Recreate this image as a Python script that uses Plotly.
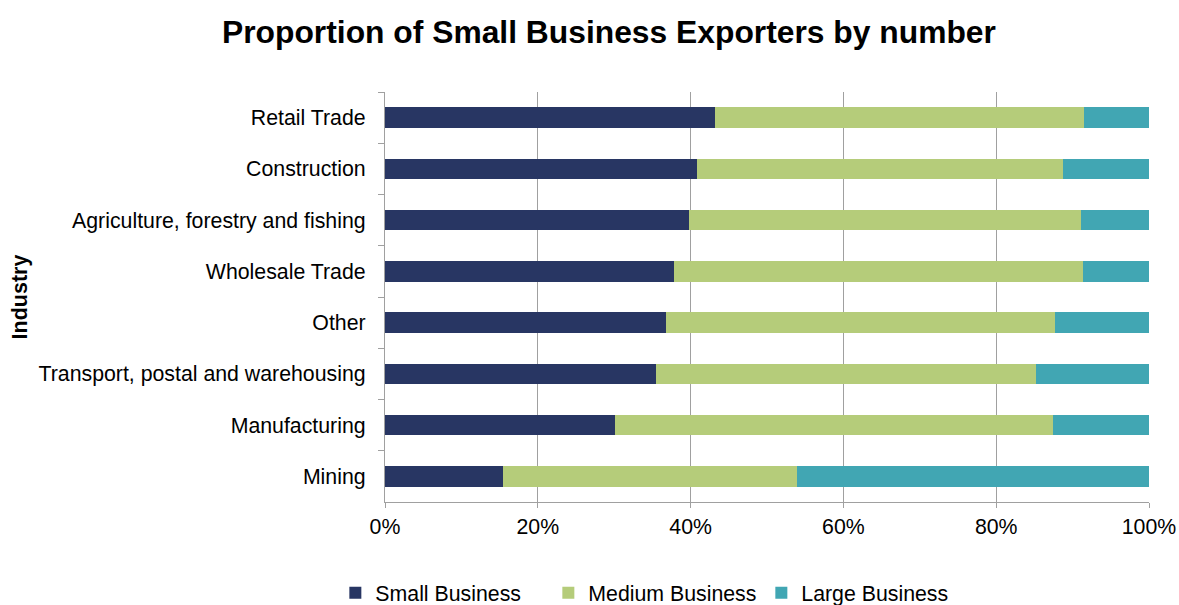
import plotly.graph_objects as go

categories = ["Retail Trade", "Construction", "Agriculture, forestry and fishing",
              "Wholesale Trade", "Other", "Transport, postal and warehousing",
              "Manufacturing", "Mining"]
small = [43.2, 40.8, 39.8, 37.8, 36.8, 35.5, 30.1, 15.4]
medium = [48.3, 47.9, 51.3, 53.6, 50.9, 49.7, 57.3, 38.5]
large = [8.5, 11.3, 8.9, 8.6, 12.3, 14.8, 12.6, 46.1]

series = [("Small Business", small, "#283663"),
          ("Medium Business", medium, "#b5cc7a"),
          ("Large Business", large, "#41a6b3")]

fig = go.Figure()
for name, vals, col in series:
    fig.add_trace(go.Bar(
        y=categories, x=[v / 100 for v in vals], name=name, orientation="h",
        marker=dict(color=col, line=dict(width=0)),
    ))

FS = 21.3
fig.update_layout(
    barmode="stack",
    bargap=0.6,
    width=1179, height=605,
    margin=dict(l=385, r=30, t=92, b=103, autoexpand=False),
    paper_bgcolor="white", plot_bgcolor="white",
    font=dict(family="Liberation Sans, Arial, sans-serif", size=FS, color="#000000"),
    title=dict(text="<b>Proportion of Small Business Exporters by number</b>",
               x=0.5165, xanchor="center", y=0.947, yanchor="middle",
               font=dict(size=31.8, color="#000000")),
    legend=dict(orientation="h", x=-0.065, xanchor="left", y=-0.222, yanchor="middle",
                font=dict(size=FS), traceorder="normal", itemwidth=30,
                entrywidth=168, entrywidthmode="pixels"),
    xaxis=dict(range=[0, 1], tickformat=".0%", dtick=0.2, showgrid=True,
               gridcolor="#a0a0a0", gridwidth=1.2, showline=True, linecolor="#a0a0a0",
               linewidth=1.2, ticks="outside", ticklen=5, tickcolor="#a0a0a0",
               zeroline=False, fixedrange=True, automargin=False,
               ticklabelstandoff=0),
    yaxis=dict(autorange="reversed", showline=True, linecolor="#a0a0a0", linewidth=1.2,
               ticks="outside", ticklen=6, tickcolor="#a0a0a0", tickson="boundaries",
               showgrid=False, automargin=False, ticklabelstandoff=14,
               title=dict(text="<b>Industry</b>", font=dict(size=21.5), standoff=4)),
)
fig.write_html("out.html", config={"displayModeBar": False},
               post_script="document.body.style.margin='0';document.body.style.overflow='hidden';")
